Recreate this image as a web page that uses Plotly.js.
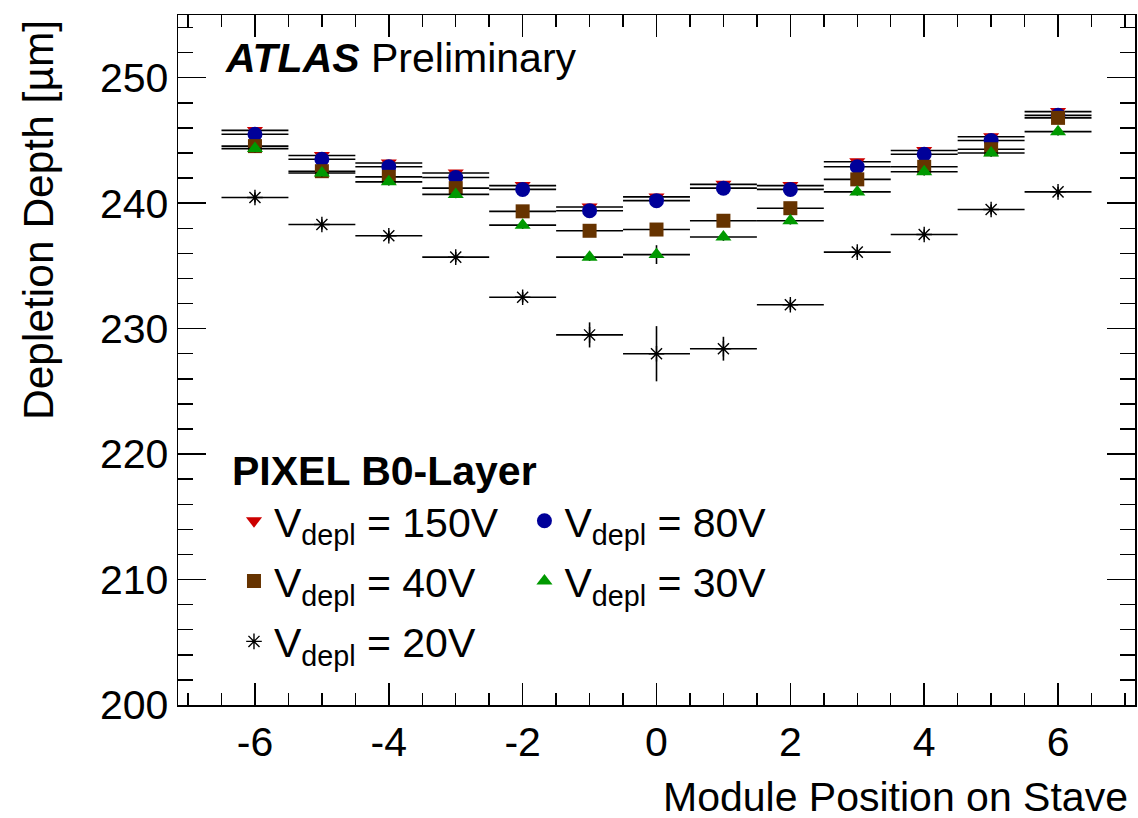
<!DOCTYPE html>
<html>
<head>
<meta charset="utf-8">
<script src="https://cdn.plot.ly/plotly-3.0.1.min.js"></script>
<style>html,body{margin:0;padding:0;background:#fff;} #chart{width:1138px;height:818px;}</style>
</head>
<body>
<div id="chart"></div>
<script>
// ---- data ----
const positions = [-6, -5, -4, -3, -2, -1, 0, 1, 2, 3, 4, 5, 6];
const binHalfWidth = [0.5, 0.5, 0.5, 0.5, 0.5, 0.5, 0.5, 0.5, 0.5, 0.5, 0.5, 0.5, 0.5];

const depth150 = [245.8, 243.8, 243.2, 242.4, 241.4, 239.7, 240.5, 241.5, 241.4, 243.3, 244.2, 245.3, 247.3];
const err150   = [0.2, 0.2, 0.2, 0.2, 0.2, 0.2, 0.2, 0.2, 0.2, 0.2, 0.2, 0.2, 0.2];

const depth80  = [245.5, 243.5, 242.9, 242.05, 241.1, 239.4, 240.2, 241.2, 241.1, 242.9, 243.9, 245.0, 247.0];
const err80    = [0.2, 0.2, 0.2, 0.2, 0.2, 0.2, 0.2, 0.2, 0.2, 0.2, 0.2, 0.2, 0.2];

const depth40  = [244.55, 242.55, 242.1, 241.2, 239.35, 237.8, 237.9, 238.6, 239.6, 241.9, 242.9, 244.3, 246.8];
const err40    = [0.3, 0.3, 0.3, 0.3, 0.3, 0.3, 0.5, 0.3, 0.3, 0.3, 0.3, 0.3, 0.3];

const depth30  = [244.35, 242.4, 241.7, 240.7, 238.25, 235.7, 235.9, 237.3, 238.6, 240.9, 242.5, 244.0, 245.7];
const err30    = [0.3, 0.3, 0.3, 0.3, 0.3, 0.3, 0.75, 0.3, 0.3, 0.3, 0.3, 0.3, 0.3];

const depth20  = [240.45, 238.3, 237.4, 235.7, 232.5, 229.5, 228.0, 228.4, 231.9, 236.1, 237.5, 239.5, 240.9];
const err20    = [0.4, 0.4, 0.4, 0.4, 0.4, 1.0, 2.2, 0.95, 0.4, 0.4, 0.4, 0.4, 0.4];

const seriesNames = ['V<sub>depl</sub> = 150V', 'V<sub>depl</sub> = 80V', 'V<sub>depl</sub> = 40V', 'V<sub>depl</sub> = 30V', 'V<sub>depl</sub> = 20V'];

const xTickVals = [-6, -4, -2, 0, 2, 4, 6];
const xTickText = ['-6', '-4', '-2', '0', '2', '4', '6'];
const yTickVals = [200, 210, 220, 230, 240, 250];
const yTickText = ['200', '210', '220', '230', '240', '250'];

// ---- styling ----
const FONT = 'Liberation Sans, Arial, Helvetica, sans-serif';
const FS = 41;

function series(name, y, ey, symbol, color, size, legend, group, extraMarker) {
  return {
    type: 'scatter', mode: 'markers', name: name, x: positions, y: y,
    legend: legend, legendgroup: group,
    error_x: {type: 'data', array: binHalfWidth, visible: true, color: '#000', thickness: 1.6, width: 0},
    error_y: {type: 'data', array: ey, visible: true, color: '#000', thickness: 1.6, width: 0},
    marker: Object.assign({symbol: symbol, color: color, size: size, line: {width: 0}}, extraMarker || {}),
    hoverinfo: 'x+y+name'
  };
}

const traces = [
  series(seriesNames[0], depth150, err150, 'triangle-down', '#cc0000', 14, 'legend', 'g1'),
  series(seriesNames[1], depth80, err80, 'circle', '#000099', 15, 'legend2', 'g2'),
  series(seriesNames[2], depth40, err40, 'square', '#663300', 14, 'legend', 'g3'),
  series(seriesNames[3], depth30, err30, 'triangle-up', '#009900', 14, 'legend2', 'g4'),
  series(seriesNames[4], depth20, err20, 'asterisk-open', '#000000', 13, 'legend', 'g5', {line: {width: 1.4, color: '#000'}})
];

const axisCommon = {
  showgrid: false, zeroline: false, showline: true, linecolor: '#000', linewidth: 1.5,
  mirror: 'allticks', ticks: 'inside', tickcolor: '#000', tickwidth: 1.5,
  tickfont: {family: FONT, size: FS, color: '#000'}
};

const layout = {
  width: 1138, height: 818,
  paper_bgcolor: '#fff', plot_bgcolor: '#fff',
  margin: {l: 178, r: 3, t: 15, b: 113},
  font: {family: FONT, size: FS, color: '#000'},
  xaxis: Object.assign({}, axisCommon, {
    range: [-7.15, 7.15], tickmode: 'array', tickvals: xTickVals, ticktext: xTickText, ticklen: 22,
    minor: {dtick: 0.5, tick0: 0, ticks: 'inside', ticklen: 12, tickwidth: 1.5, tickcolor: '#000', showgrid: false}
  }),
  yaxis: Object.assign({}, axisCommon, {
    range: [200, 255], tickmode: 'array', tickvals: yTickVals, ticktext: yTickText, ticklen: 28,
    minor: {dtick: 2, tick0: 200, ticks: 'inside', ticklen: 15, tickwidth: 1.5, tickcolor: '#000', showgrid: false}
  }),
  showlegend: true,
  legend: {
    x: 0.0585, y: 0.315, xanchor: 'left', yanchor: 'top',
    bgcolor: 'rgba(0,0,0,0)', borderwidth: 0, tracegroupgap: 4,
    font: {family: FONT, size: FS, color: '#000'}
  },
  legend2: {
    x: 0.362, y: 0.315, xanchor: 'left', yanchor: 'top',
    bgcolor: 'rgba(0,0,0,0)', borderwidth: 0, tracegroupgap: 4,
    font: {family: FONT, size: FS, color: '#000'}
  },
  annotations: [
    {xref: 'paper', yref: 'paper', x: 0.047, y: 0.937, xanchor: 'left', yanchor: 'middle', showarrow: false,
     text: '<b><i>ATLAS</i></b> Preliminary', font: {family: FONT, size: FS, color: '#000'}},
    {xref: 'paper', yref: 'paper', x: 0.054, y: 0.339, xanchor: 'left', yanchor: 'middle', showarrow: false,
     text: '<b>PIXEL B0-Layer</b>', font: {family: FONT, size: FS, color: '#000'}},
    {xref: 'paper', yref: 'paper', x: 1, xshift: -5, y: -0.133, xanchor: 'right', yanchor: 'middle', showarrow: false,
     height: 34, text: 'Module Position on Stave', font: {family: FONT, size: FS, color: '#000'}},
    {xref: 'paper', yref: 'paper', x: -0.1463, y: 1, yshift: -3, xanchor: 'center', yanchor: 'top', showarrow: false,
     textangle: -90, text: 'Depletion Depth [µm]', font: {family: FONT, size: 42.5, color: '#000'}}
  ]
};

Plotly.newPlot('chart', traces, layout, {displayModeBar: false, staticPlot: true});
</script>
</body>
</html>
